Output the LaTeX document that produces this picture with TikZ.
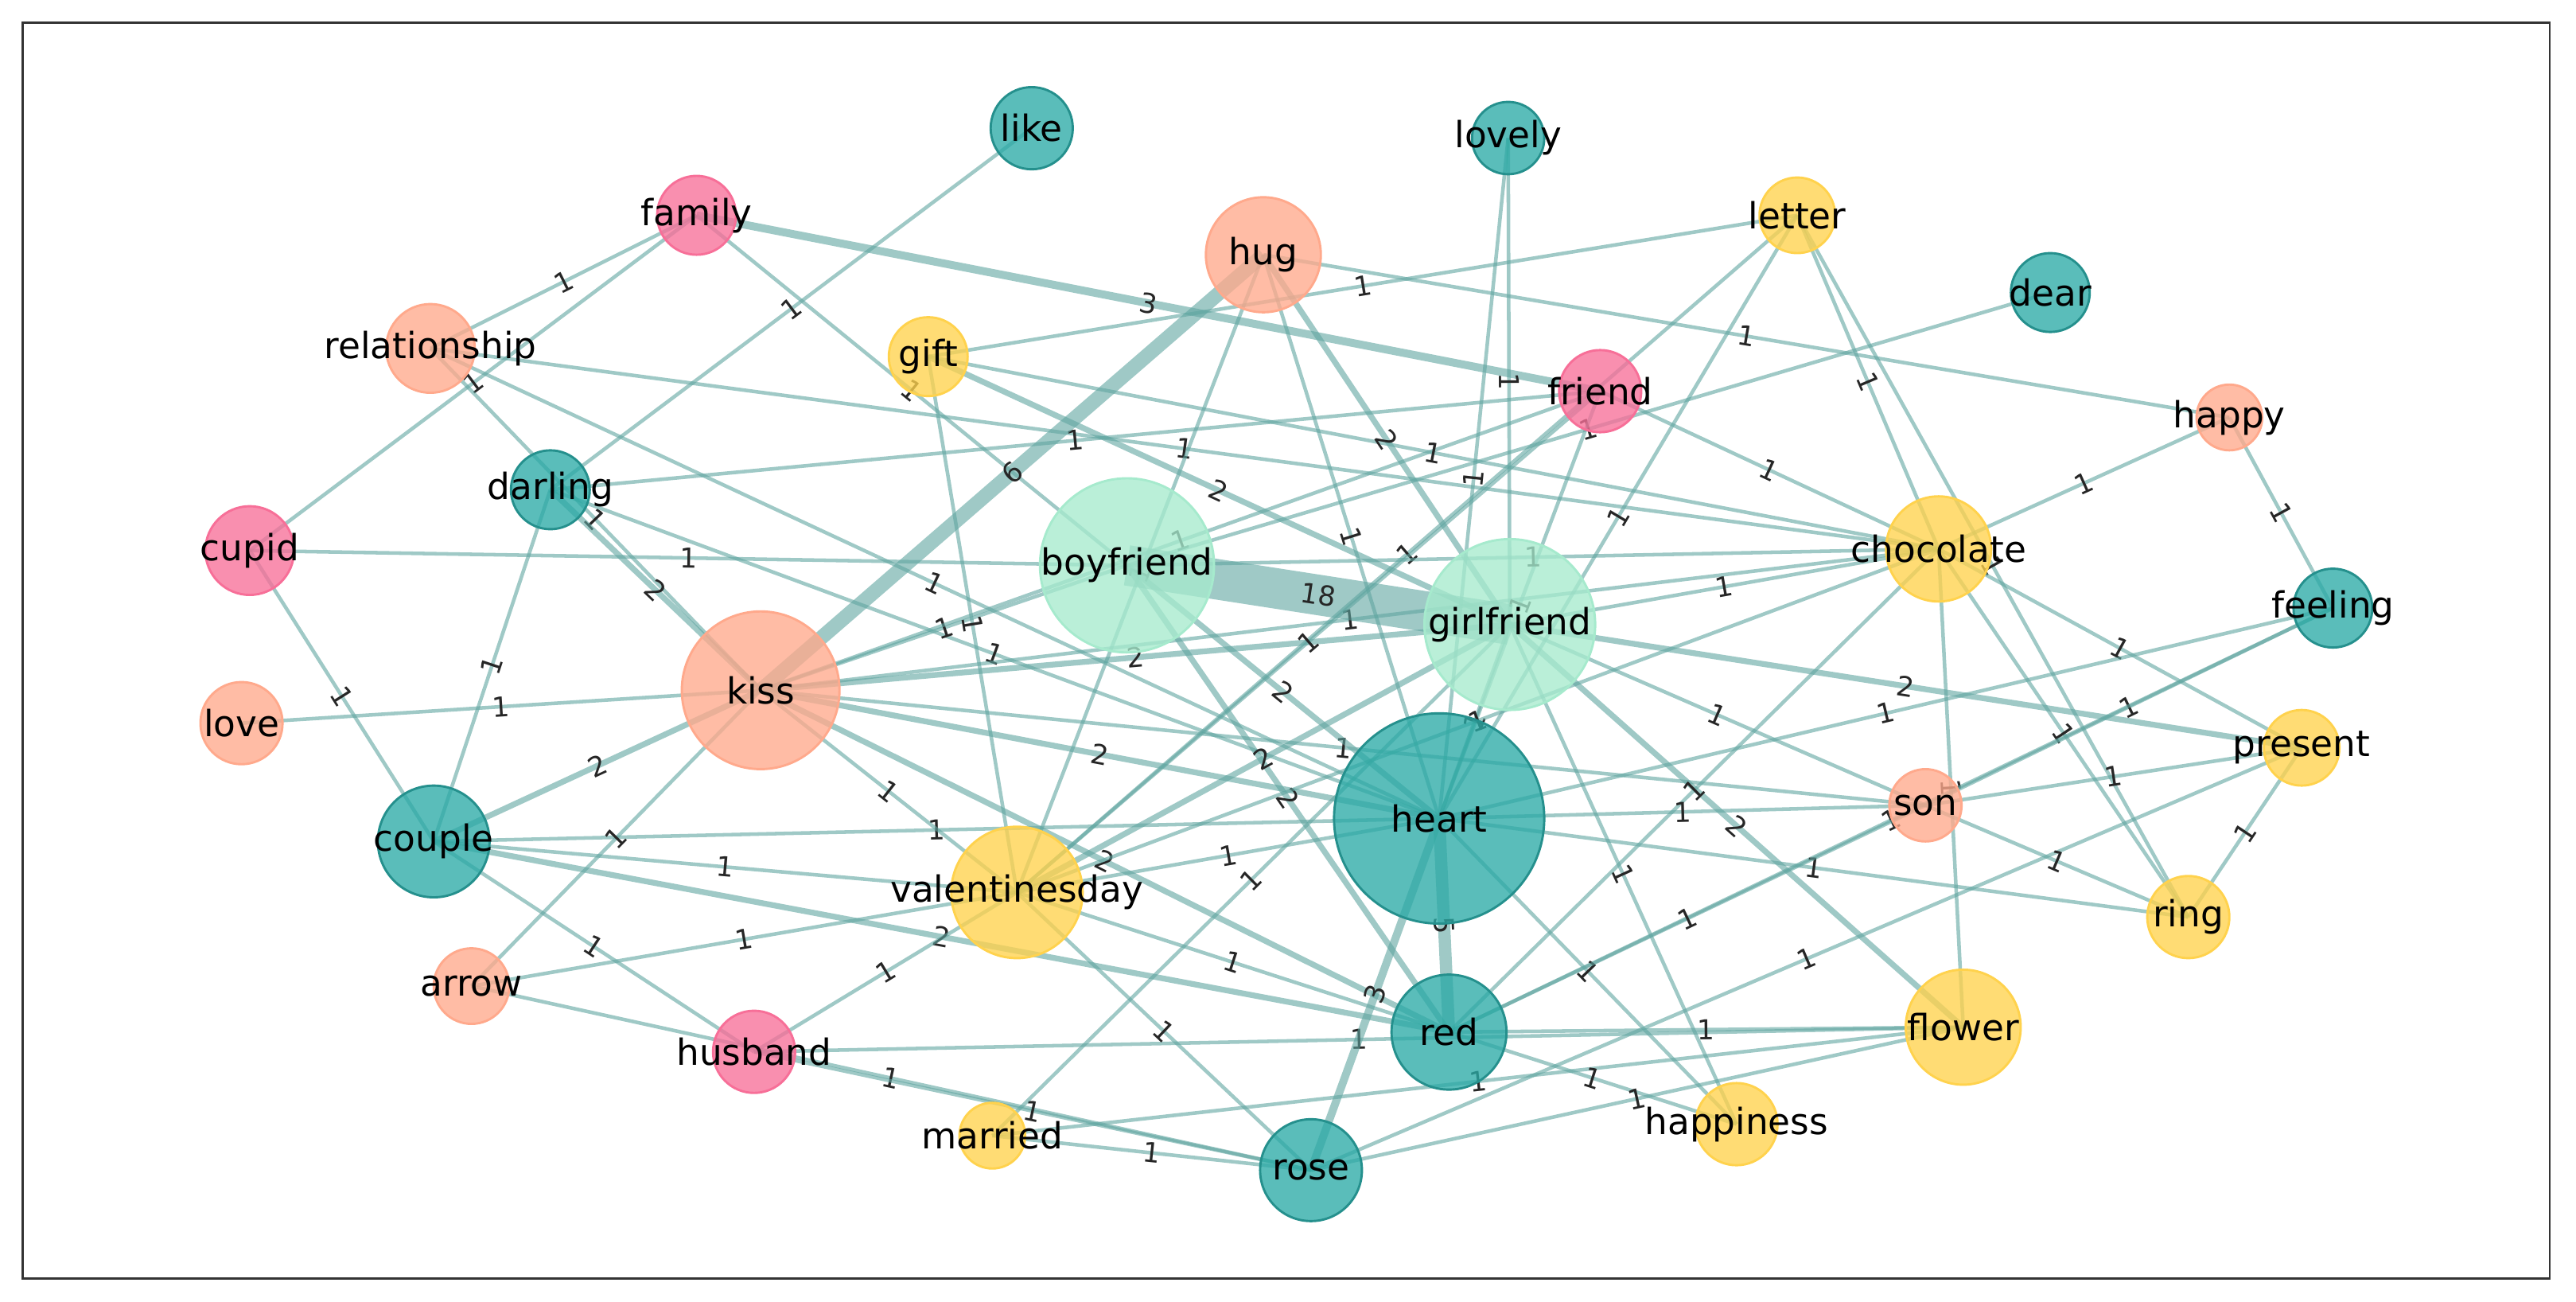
\documentclass[tikz,border=0pt]{standalone}
\usepackage{fontspec}
\setmainfont{DejaVu Sans}
\usetikzlibrary{backgrounds}
\definecolor{cteal}{HTML}{2BAAA6}
\definecolor{cmint}{HTML}{A6EACD}
\definecolor{csal}{HTML}{FFA98C}
\definecolor{cpink}{HTML}{F76F98}
\definecolor{cyel}{HTML}{FFD24D}
\definecolor{cedge}{HTML}{5FA5A0}
\tikzset{
 wn/.style={circle,inner sep=0pt,fill opacity=0.78,text opacity=1,font=\fontsize{12.5}{12.5}\selectfont,line width=0.8pt},
 teal/.style={wn,fill=cteal,draw=cteal!85!black},
 mint/.style={wn,fill=cmint,draw=cmint},
 sal/.style={wn,fill=csal,draw=csal},
 pink/.style={wn,fill=cpink,draw=cpink},
 yel/.style={wn,fill=cyel,draw=cyel},
 edge/.style={draw=cedge,draw opacity=0.6},
 elab/.style={font=\fontsize{9.5}{9.5}\selectfont,sloped,midway,inner sep=1pt,text=black!85}
}
\newcommand{\N}[5]{\node[#5,minimum size=#4*0.04cm] (#1) at (#2,#3) {\makebox[0pt]{#1}};}
\newcommand{\E}[3]{\draw[edge,line width={0.5pt+0.75pt*#3}] (#1.center) -- node[elab]{#3} (#2.center);}
\begin{document}
\begin{tikzpicture}[x=0.02cm,y=-0.02cm]
\useasboundingbox (0,0) rectangle (1568,792);
\draw[line width=0.8pt,black!80] (14,14) rectangle (1552,778);
\N{like}{628}{78}{25}{teal}
\N{lovely}{918}{84}{22}{teal}
\N{family}{424}{131}{24}{pink}
\N{hug}{769}{155}{35}{sal}
\N{letter}{1094}{131}{23}{yel}
\N{dear}{1248}{178}{24}{teal}
\N{relationship}{262}{212}{27}{sal}
\N{gift}{565}{217}{24}{yel}
\N{friend}{974}{238}{25}{pink}
\N{happy}{1357}{254}{20}{sal}
\N{darling}{335}{298}{24}{teal}
\N{cupid}{152}{335}{27}{pink}
\N{boyfriend}{686}{344}{53}{mint}
\N{chocolate}{1180}{334}{32}{yel}
\N{girlfriend}{919}{380}{52}{mint}
\N{feeling}{1420}{370}{24}{teal}
\N{kiss}{463}{420}{48}{sal}
\N{love}{147}{440}{25}{sal}
\N{present}{1401}{455}{23}{yel}
\N{heart}{876}{498}{64}{teal}
\N{son}{1172}{490}{22}{sal}
\N{couple}{264}{512}{34}{teal}
\N{valentinesday}{619}{543}{40}{yel}
\N{ring}{1332}{558}{25}{yel}
\N{arrow}{287}{600}{23}{sal}
\N{red}{882}{628}{35}{teal}
\N{flower}{1195}{625}{35}{yel}
\N{husband}{459}{640}{25}{pink}
\N{happiness}{1057}{684}{25}{yel}
\N{married}{604}{691}{20}{yel}
\N{rose}{798}{712}{31}{teal}
\begin{scope}[on background layer]
\E{family}{relationship}{1}
\E{family}{cupid}{1}
\E{family}{friend}{3}
\E{family}{boyfriend}{1}
\E{like}{darling}{1}
\E{relationship}{kiss}{1}
\E{relationship}{chocolate}{1}
\E{relationship}{heart}{1}
\E{darling}{friend}{1}
\E{darling}{couple}{1}
\E{darling}{heart}{1}
\E{cupid}{boyfriend}{1}
\E{cupid}{couple}{1}
\E{love}{kiss}{1}
\E{couple}{kiss}{2}
\E{couple}{valentinesday}{1}
\E{couple}{red}{2}
\E{couple}{heart}{1}
\E{couple}{husband}{1}
\E{arrow}{kiss}{1}
\E{arrow}{valentinesday}{1}
\E{arrow}{rose}{1}
\E{husband}{rose}{1}
\E{husband}{flower}{1}
\E{husband}{valentinesday}{1}
\E{married}{rose}{1}
\E{married}{flower}{1}
\E{married}{girlfriend}{1}
\E{kiss}{hug}{6}
\E{kiss}{girlfriend}{2}
\E{kiss}{boyfriend}{1}
\E{kiss}{heart}{2}
\E{kiss}{red}{2}
\E{kiss}{valentinesday}{1}
\E{kiss}{son}{1}
\E{kiss}{chocolate}{1}
\E{kiss}{friend}{1}
\E{kiss}{darling}{2}
\E{gift}{letter}{1}
\E{gift}{girlfriend}{2}
\E{gift}{valentinesday}{1}
\E{gift}{chocolate}{1}
\E{hug}{happy}{1}
\E{hug}{girlfriend}{2}
\E{hug}{heart}{1}
\E{hug}{valentinesday}{1}
\E{lovely}{girlfriend}{1}
\E{lovely}{heart}{1}
\E{letter}{valentinesday}{1}
\E{letter}{heart}{1}
\E{letter}{chocolate}{1}
\E{letter}{ring}{1}
\E{dear}{boyfriend}{1}
\E{friend}{chocolate}{1}
\E{friend}{valentinesday}{1}
\E{friend}{heart}{1}
\E{happy}{chocolate}{1}
\E{happy}{feeling}{1}
\E{boyfriend}{girlfriend}{18}
\E{boyfriend}{chocolate}{1}
\E{boyfriend}{heart}{2}
\E{boyfriend}{red}{2}
\E{girlfriend}{chocolate}{1}
\E{girlfriend}{present}{2}
\E{girlfriend}{flower}{2}
\E{girlfriend}{heart}{1}
\E{girlfriend}{happiness}{1}
\E{girlfriend}{son}{1}
\E{girlfriend}{valentinesday}{2}
\E{chocolate}{flower}{1}
\E{chocolate}{present}{1}
\E{chocolate}{ring}{1}
\E{chocolate}{valentinesday}{1}
\E{chocolate}{red}{1}
\E{feeling}{son}{1}
\E{feeling}{red}{1}
\E{feeling}{heart}{1}
\E{present}{ring}{1}
\E{present}{rose}{1}
\E{present}{son}{1}
\E{heart}{red}{5}
\E{heart}{rose}{3}
\E{heart}{son}{1}
\E{heart}{ring}{1}
\E{heart}{happiness}{1}
\E{son}{red}{1}
\E{son}{ring}{1}
\E{red}{flower}{1}
\E{red}{happiness}{1}
\E{rose}{flower}{1}
\E{valentinesday}{red}{1}
\E{valentinesday}{heart}{1}
\E{valentinesday}{rose}{1}
\end{scope}
\end{tikzpicture}
\end{document}
